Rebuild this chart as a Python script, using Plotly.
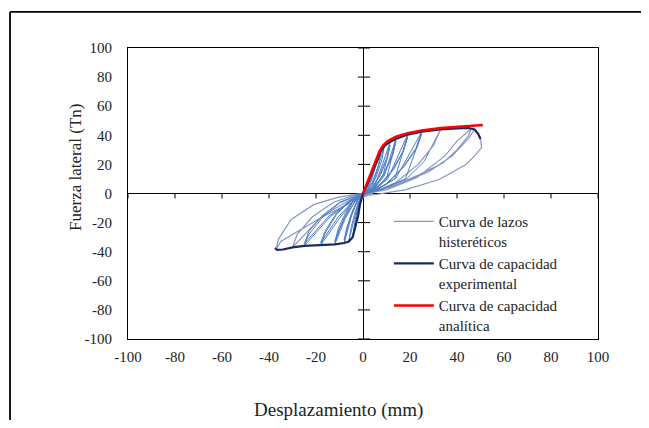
import plotly.graph_objects as go

# ---------------- data ----------------
# Hysteresis loops, small/medium cycles (one continuous path)
hyst_in_x = [
    0, 1.5, 1.0, 0.2, -0.6, -1.2, -0.6, 0.2,
    3.0, 2.2, 1.0, 0, -1.0, -2.2, -1.5, -0.5, 0.8,
    5.0, 4.0, 2.3, 0.8, -0.5, -3.0, -2.2, -1.0, 0.5, 2.0,
    7.5, 6.5, 4.0, 1.5, -0.5, -2.0, -4.2, -3.3, -2.0, -0.5, 1.5, 4.0,
    9.0, 8.0, 5.5, 2.5, 0, -2.0, -6.0, -5.0, -3.2, -1.2, 1.0, 5.0,
    11.5, 10.2, 7.0, 3.5, 0.5, -2.5, -5.0, -8.0, -7.0, -4.5, -2.0, 0.5, 4.5, 8.5,
    11.5, 10.3, 7.5, 4.0, 0.5, -2.5, -5.5, -8.0, -7.0, -4.5, -2.0, 0.5, 5.0, 9.0,
    14.0, 12.5, 9.0, 4.5, 0.5, -3.0, -7.5, -12.0, -10.5, -7.5, -4.0, -0.5, 4.0, 10.0,
    14.0, 12.8, 9.5, 5.0, 0.5, -3.0, -8.0, -12.0, -10.5, -7.5, -4.0, -0.5, 4.5, 10.5,
    19.0, 17.0, 12.5, 6.5, 1.0, -3.5, -10.0, -18.0, -16.0, -11.5, -6.0, -1.0, 6.0, 13.5,
    19.0, 17.2, 13.0, 7.0, 1.0, -3.5, -10.5, -18.0, -16.0, -11.5, -6.0, -1.0, 6.5, 14.0,
    25.0, 22.5, 17.0, 9.5, 2.5, -4.0, -14.0, -25.0, -23.0, -17.5, -10.0, -2.0, 8.0, 18.0,
    25.0, 22.8, 17.5, 10.0, 2.5, -4.0, -14.5, -25.0, -23.0, -17.5, -10.0, -2.0, 8.5, 18.5, 26.0,
]
hyst_in_y = [
    0, 5.5, 2.0, 0, -2.5, -6.5, -2.5, 0.3,
    11, 6, 1.5, -0.5, -3.5, -13, -7, -1.5, 1.0,
    18.5, 11, 4, 0.5, -2.5, -20, -12, -4, 0, 3,
    28, 19, 8, 1, -2.5, -8, -28, -18, -8, -1.5, 1, 5,
    32, 23, 11, 2.5, -1, -6, -32.5, -23, -12, -3, 0.5, 5,
    35, 25, 12.5, 3, 0, -5, -16, -34, -25, -13, -4, 0, 3.5, 12,
    33, 24, 13, 3.5, 0, -5, -17, -32, -24, -12, -3.5, 0, 4, 12,
    37.5, 27, 14, 3.5, 0, -4.5, -17, -35, -26, -15, -5, -0.5, 2.5, 10,
    36, 27, 15, 4, 0, -4.5, -17, -33, -24, -13.5, -4.5, -0.5, 2.5, 10,
    40.5, 29, 16, 5, 0, -4, -17, -35.5, -27, -15, -5.5, -0.5, 3, 10,
    39, 29, 16.5, 5, 0, -4, -16, -34, -25.5, -14, -5, -0.5, 3, 10.5,
    42.5, 31, 18, 6, 0.5, -4, -16, -36, -28, -17, -6.5, -1, 3, 10,
    41, 31, 18.5, 6.5, 0.5, -4, -15.5, -34.5, -26, -15.5, -6, -1, 3, 10, 22,
]

# Hysteresis loops, large cycles (continuation of the same path)
hyst_out_x = [
    26.0, 33.0, 30.0, 23.5, 14.0, 4.5, -5.0, -17.0, -30.0, -28.0, -21.5, -12.5, -3.5,
    10.0, 23.0, 35.0, 40.0,
    46.0, 45.0, 40.0, 34.0, 24.0, 14.0, 5.0,
    -6.5, -16.6, -26.4, -35.0, -37.0,
    -36.0, -30.6, -20.8, -10.8, -2.3,
    5.0, 15.0, 28.0, 38.0, 45.0, 47.5, 49.0, 50.0, 50.5, 47.0, 43.8, 32.4, 18.3, 5.5, 0,
]
hyst_out_y = [
    22, 44, 33, 20, 7.5, 1, -4, -15, -37, -28, -16, -6, -1,
    2.5, 11, 26, 36,
    44.5, 40, 30, 21, 13, 6, 1,
    -7.5, -15.5, -24.7, -33, -38.5,
    -31.5, -17.8, -7.5, -2.7, -0.7,
    1.5, 6, 15, 26, 38, 44, 41, 37.5, 31.5, 25, 20, 9.6, 2.7, -0.7, -1.5,
]

# Experimental capacity curve (envelope)
exp_x = [-37.5, -36.5, -34, -30, -25, -18, -12, -8, -6, -4.4, -3, -2.1, -1.3, 0,
         2, 4, 6, 7.5, 9, 11, 14, 19, 25, 33, 40, 45, 47.5, 49, 50]
exp_y = [-37.5, -38.7, -38.5, -37, -36, -35.5, -35, -34, -33, -30, -22, -15.5, -7.5, 0,
         7, 15, 23, 28.5, 32.5, 35, 37.5, 40.5, 42.5, 44, 44.7, 45, 44, 41, 37.5]

# Analytical capacity curve
ana_x = [0, 3.5, 7, 8.5, 10.5, 14, 19, 25, 33, 42, 51]
ana_y = [0, 14.5, 29, 33, 36, 39, 41.5, 43.3, 45, 46, 47]

tick_vals = [-100, -80, -60, -40, -20, 0, 20, 40, 60, 80, 100]
tick_text = [str(v) for v in tick_vals]

names = ["Curva de lazos<br>histeréticos",
         "Curva de capacidad<br>experimental",
         "Curva de capacidad<br>analítica"]

SERIF = "Liberation Serif, Times New Roman, serif"

fig = go.Figure()
fig.add_trace(go.Scatter(x=hyst_out_x, y=hyst_out_y, mode="lines", name=names[0],
                         legendgroup="h", line=dict(color="#8598c2", width=1.2)))
fig.add_trace(go.Scatter(x=hyst_in_x, y=hyst_in_y, mode="lines", name=names[0],
                         legendgroup="h", showlegend=False,
                         line=dict(color="#4f7fc4", width=1)))
fig.add_trace(go.Scatter(x=exp_x, y=exp_y, mode="lines", name=names[1],
                         line=dict(color="#1b2a5e", width=2.2)))
fig.add_trace(go.Scatter(x=ana_x, y=ana_y, mode="lines", name=names[2],
                         line=dict(color="#ff0000", width=2.5)))

axis_common = dict(
    range=[-100, 100], tickvals=tick_vals, ticktext=tick_text,
    showgrid=False, zeroline=True, zerolinecolor="black", zerolinewidth=1,
    showline=True, linecolor="black", linewidth=1, mirror=True,
    ticks="", tickfont=dict(family=SERIF, size=15, color="#222"),
)
fig.update_xaxes(**axis_common, ticklabelstandoff=4)
fig.update_yaxes(**axis_common, ticklabelstandoff=12)

# tick marks drawn on the zero axes (Excel style)
shapes = []
for v in tick_vals:
    if v == 0:
        continue
    shapes.append(dict(type="line", xref="x", yref="y", ysizemode="pixel", yanchor=0,
                       x0=v, x1=v, y0=0, y1=-5, line=dict(color="black", width=1)))
    shapes.append(dict(type="line", xref="x", yref="y", xsizemode="pixel", xanchor=0,
                       x0=-5, x1=7, y0=v, y1=v, line=dict(color="black", width=1)))
# outer figure frame: only the left and top edges fall inside the picture
shapes.append(dict(type="line", xref="paper", yref="paper",
                   x0=-0.251, x1=-0.251, y0=-0.3, y1=1.124,
                   line=dict(color="black", width=1.8), layer="below"))
shapes.append(dict(type="line", xref="paper", yref="paper",
                   x0=-0.251, x1=1.12, y0=1.124, y1=1.124,
                   line=dict(color="black", width=1.8), layer="below"))

fig.update_layout(
    width=641, height=412,
    margin=dict(l=120, r=51, t=40, b=81),
    paper_bgcolor="white", plot_bgcolor="white",
    shapes=shapes,
    showlegend=True,
    legend=dict(x=0.555, y=0.46, xanchor="left", yanchor="top",
                bgcolor="rgba(0,0,0,0)", valign="top",
                font=dict(family=SERIF, size=15, color="#222"),
                itemwidth=40, tracegroupgap=0),
    annotations=[
        dict(text="Desplazamiento (mm)", xref="paper", yref="paper",
             x=(338 - 128) / 470, y=(339 - 410) / 291, showarrow=False,
             xanchor="center", yanchor="middle",
             font=dict(family=SERIF, size=19, color="#222")),
        dict(text="Fuerza lateral (Tn)", xref="paper", yref="paper",
             x=(75 - 128) / 470, y=(339 - 168) / 291, showarrow=False,
             textangle=-90, xanchor="center", yanchor="middle",
             font=dict(family=SERIF, size=17, color="#222")),
    ],
)

fig.write_html("out.html")
